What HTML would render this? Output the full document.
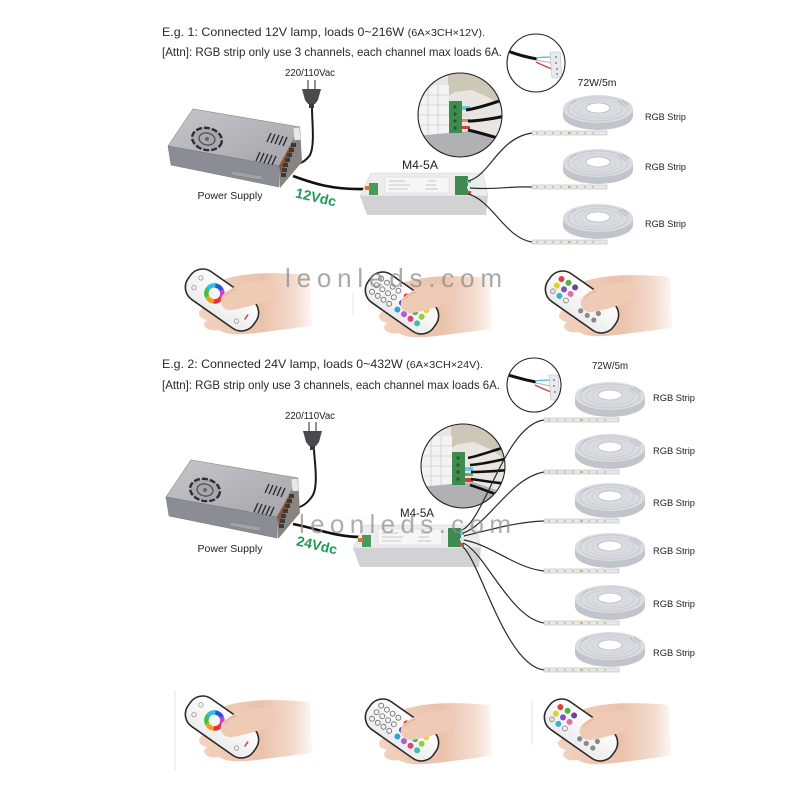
<!DOCTYPE html>
<html><head><meta charset="utf-8"><style>
html,body{margin:0;padding:0;background:#fff;}
svg{display:block;}
text{font-family:"Liberation Sans",Arial,sans-serif;}
</style></head><body>
<svg width="800" height="800" viewBox="0 0 800 800" xmlns="http://www.w3.org/2000/svg">
<defs>
 <linearGradient id="skin" x1="0" y1="0" x2="1" y2="0">
  <stop offset="0" stop-color="#f2d2bf"/>
  <stop offset="0.55" stop-color="#ebc2ab"/>
  <stop offset="0.85" stop-color="#f3dccf"/>
  <stop offset="1" stop-color="#fdf7f3"/>
 </linearGradient>
 <linearGradient id="psuTop" x1="0" y1="0" x2="1" y2="1">
  <stop offset="0" stop-color="#c6c6ca"/><stop offset="1" stop-color="#a4a4aa"/>
 </linearGradient>
 <linearGradient id="remFace" x1="0" y1="0" x2="0" y2="1">
  <stop offset="0" stop-color="#ffffff"/><stop offset="1" stop-color="#ececec"/>
 </linearGradient>
 <clipPath id="cA"><circle cx="460" cy="115" r="42"/></clipPath>
 <clipPath id="cB"><circle cx="463" cy="466" r="42"/></clipPath>
 <clipPath id="cS1"><circle cx="536" cy="63" r="29"/></clipPath>
 <clipPath id="cS2"><circle cx="534" cy="385" r="27"/></clipPath>

 <g id="reel">
  <rect x="-66" y="22" width="75" height="4" fill="#e6e8eb" stroke="#b5b9bf" stroke-width="0.6"/>
  <rect x="-62" y="23" width="2" height="2" fill="#d6c88e"/>
  <rect x="-54" y="23" width="2" height="2" fill="#d6c88e"/>
  <rect x="-46" y="23" width="2" height="2" fill="#d6c88e"/>
  <rect x="-38" y="23" width="2" height="2" fill="#d6c88e"/>
  <rect x="-30" y="23" width="3" height="2" fill="#c9b870"/>
  <rect x="-22" y="23" width="2" height="2" fill="#d6c88e"/>
  <rect x="-14" y="23" width="2" height="2" fill="#d6c88e"/>
  <rect x="-6" y="23" width="2" height="2" fill="#d6c88e"/>
  <path d="M-35,0 L-35,7 A35,14 0 0 0 35,7 L35,0 Z" fill="#c1c4ca"/>
  <ellipse rx="35" ry="14" fill="#dadce1"/>
  <ellipse rx="30" ry="12" fill="none" stroke="#c6c9ce" stroke-width="1"/>
  <ellipse rx="24" ry="9.5" fill="none" stroke="#cbced3" stroke-width="1"/>
  <ellipse rx="18" ry="7.5" fill="none" stroke="#d0d3d7" stroke-width="0.8"/>
  <path d="M20,-8 L28,-2 M24,-9 L31,-4 M-28,-5 L-22,-9" stroke="#b5b8be" stroke-width="0.8"/>
  <ellipse cy="-1" rx="12" ry="5" fill="#ffffff" stroke="#b6b9be" stroke-width="0.8"/>
 </g>

 <g id="psu">
  <polygon points="168,146 193,109 300,127 279,166" fill="url(#psuTop)" stroke="#85858c" stroke-width="0.6"/>
  <polygon points="168,146 279,166 279,187 171,165" fill="#8c8c94" stroke="#75757c" stroke-width="0.5"/>
  <polygon points="279,166 300,127 302,162 280,188" fill="#8a8480"/>
  <polygon points="279,166 292,143 294,150 281,174" fill="#8b5636"/>
  <rect x="294" y="128" width="6" height="12" fill="#e8e8e8" transform="rotate(-5 297 134)"/>
  <g fill="#3a3a3a">
   <rect x="285" y="158" width="5" height="4"/>
   <rect x="287" y="153" width="5" height="4"/>
   <rect x="289" y="148" width="5" height="4"/>
   <rect x="291" y="143" width="5" height="4"/>
   <rect x="283" y="163" width="5" height="4"/>
   <rect x="282" y="168" width="5" height="4"/>
   <rect x="281" y="173" width="5" height="4"/>
  </g>
  <ellipse cx="207" cy="139" rx="15" ry="11" fill="#a8a8ad" stroke="#2f2f33" stroke-width="2.4" stroke-dasharray="6 2" transform="rotate(12 207 139)"/>
  <ellipse cx="207" cy="139" rx="8" ry="6" fill="none" stroke="#55555a" stroke-width="1.4" transform="rotate(12 207 139)"/>
  <circle cx="207" cy="139" r="2" fill="#66666b"/>
  <g stroke="#2c2c30" stroke-width="1.4">
   <line x1="267" y1="142" x2="271" y2="133"/>
   <line x1="271" y1="143" x2="275" y2="134"/>
   <line x1="275" y1="144" x2="279" y2="135"/>
   <line x1="279" y1="145" x2="283" y2="136"/>
   <line x1="283" y1="146" x2="287" y2="137"/>
   <line x1="256" y1="161" x2="260" y2="152"/>
   <line x1="260" y1="162" x2="264" y2="153"/>
   <line x1="264" y1="163" x2="268" y2="154"/>
   <line x1="268" y1="164" x2="272" y2="155"/>
   <line x1="272" y1="165" x2="276" y2="156"/>
  </g>
  <polygon points="232,171 262,176 262,180 232,175" fill="#a2a2a8" stroke="#777" stroke-width="0.4"/>
 </g>

 <g id="ctrl">
  <polygon points="360,196 371,173 483,173 488,196" fill="#ececec" stroke="#d0d0d0" stroke-width="0.5"/>
  <polygon points="360,196 488,196 486,215 367,215" fill="#d2d2d4"/>
  <rect x="385" y="177" width="64" height="16" fill="#f6f6f6" stroke="#d6d6d6" stroke-width="0.5"/>
  <g stroke="#b8b8b8" stroke-width="0.8">
   <line x1="389" y1="181" x2="405" y2="181"/>
   <line x1="389" y1="185" x2="410" y2="185"/>
   <line x1="389" y1="189" x2="408" y2="189"/>
   <line x1="428" y1="181" x2="436" y2="181"/>
   <line x1="426" y1="185" x2="436" y2="185"/>
   <line x1="425" y1="189" x2="438" y2="189"/>
  </g>
  <rect x="369" y="183" width="9" height="12" fill="#4b985b"/>
  <rect x="365" y="186" width="5" height="4" fill="#d8743c"/>
  <rect x="455" y="176" width="13" height="19" fill="#3f8a50"/>
  <rect x="467" y="180" width="4" height="3" fill="#5cc0d8"/>
  <rect x="467" y="186" width="4" height="3" fill="#e0e0e0"/>
  <rect x="467" y="191" width="4" height="3" fill="#d04a3a"/>
 </g>

 <g id="plug">
  <line x1="308" y1="80" x2="308" y2="89" stroke="#777" stroke-width="1.6"/>
  <line x1="315" y1="80" x2="315" y2="89" stroke="#777" stroke-width="1.6"/>
  <path d="M302,89 L321,89 L318,100 L315,104 L308,104 L305,100 Z" fill="#4a4a4e"/>
  <rect x="309" y="104" width="5" height="4" fill="#3a3a3e"/>
 </g>

 <g id="handA">
  <path d="M-8,-16 C10,-27 45,-29 88,-25 L90,26 C72,28 52,31 34,33 C18,35 4,35 -3,30 C-13,32 -23,26 -15,20 C-25,18 -26,10 -16,7 C-21,2 -17,-4 -8,-7 Z" fill="url(#skin)"/>
 </g>
 <g id="remBody">
  <rect x="-40" y="-17" width="80" height="34" rx="15" fill="url(#remFace)" stroke="#2a2a2a" stroke-width="1.6"/>
 </g>
 <g id="thumb">
  <path d="M0,-4 C10,-15 30,-21 50,-19 L54,-2 C40,2 24,8 10,10 C2,11 -4,4 0,-4 Z" fill="#efcab5"/>
  <path d="M2,-3 C6,-8 10,-10 14,-11" stroke="#ddb09a" stroke-width="1" fill="none"/>
 </g>

 <g id="remA">
  <use href="#handA"/>
  <g transform="rotate(35)">
   <use href="#remBody"/>
   <g fill="none" stroke-width="4.5">
    <circle cx="-10" cy="-1" r="8" stroke="#e8303a" stroke-dasharray="8.4 41.9" stroke-dashoffset="0"/>
    <circle cx="-10" cy="-1" r="8" stroke="#f0a020" stroke-dasharray="8.4 41.9" stroke-dashoffset="-8.4"/>
    <circle cx="-10" cy="-1" r="8" stroke="#40c040" stroke-dasharray="8.4 41.9" stroke-dashoffset="-16.8"/>
    <circle cx="-10" cy="-1" r="8" stroke="#30c0e0" stroke-dasharray="8.4 41.9" stroke-dashoffset="-25.1"/>
    <circle cx="-10" cy="-1" r="8" stroke="#3050e0" stroke-dasharray="8.4 41.9" stroke-dashoffset="-33.5"/>
    <circle cx="-10" cy="-1" r="8" stroke="#d040c0" stroke-dasharray="8.4 41.9" stroke-dashoffset="-41.9"/>
   </g>
   <g fill="none" stroke="#999" stroke-width="0.8">
    <circle cx="-30" cy="-6" r="2.2"/><circle cx="-30" cy="6" r="2.2"/>
    <circle cx="14" cy="-10" r="2.2"/><circle cx="24" cy="9" r="2.2"/>
   </g>
   <rect x="29" y="-3" width="1.5" height="6" fill="#d04040"/>
  </g>
  <use href="#thumb"/>
 </g>

 <g id="remB">
  <use href="#handA"/>
  <g transform="rotate(35)">
   <use href="#remBody"/>
   <g fill="none" stroke="#6a6a6a" stroke-width="0.8">
    <circle cx="-31" cy="-8" r="2.5"/><circle cx="-31" cy="0" r="2.5"/><circle cx="-31" cy="8" r="2.5"/>
    <circle cx="-24" cy="-8" r="2.5"/><circle cx="-24" cy="0" r="2.5"/><circle cx="-24" cy="8" r="2.5"/>
    <circle cx="-17" cy="-8" r="2.5"/><circle cx="-17" cy="0" r="2.5"/><circle cx="-17" cy="8" r="2.5"/>
    <circle cx="-10" cy="-8" r="2.5"/><circle cx="-10" cy="0" r="2.5"/><circle cx="-10" cy="8" r="2.5"/>
   </g>
   <circle cx="0" cy="-8" r="3" fill="#e03030"/><circle cx="0" cy="0" r="3" fill="#7040b0"/><circle cx="0" cy="8" r="3" fill="#30a0e0"/>
   <circle cx="8" cy="-8" r="3" fill="#e86a9a"/><circle cx="8" cy="0" r="3" fill="#40b8d0"/><circle cx="8" cy="8" r="3" fill="#b060d0"/>
   <circle cx="16" cy="-8" r="3" fill="#f08030"/><circle cx="16" cy="0" r="3" fill="#50b050"/><circle cx="16" cy="8" r="3" fill="#e04080"/>
   <circle cx="24" cy="-8" r="3" fill="#f0d030"/><circle cx="24" cy="0" r="3" fill="#90d040"/><circle cx="24" cy="8" r="3" fill="#40c0a0"/>
  </g>
  <use href="#thumb"/>
 </g>

 <g id="remC">
  <use href="#handA"/>
  <g transform="rotate(35)">
   <use href="#remBody"/>
   <circle cx="-30" cy="-7" r="3" fill="#e04040"/><circle cx="-30" cy="1" r="3" fill="#e0d030"/><circle cx="-30" cy="8" r="2.5" fill="#ddd" stroke="#777" stroke-width="0.6"/>
   <circle cx="-22" cy="-8" r="3" fill="#50b050"/><circle cx="-22" cy="0" r="3" fill="#8050c0"/><circle cx="-22" cy="8" r="3" fill="#40b0d0"/>
   <circle cx="-14" cy="-8" r="3" fill="#7040a0"/><circle cx="-14" cy="0" r="3" fill="#e070a0"/><circle cx="-14" cy="8" r="2.5" fill="none" stroke="#777" stroke-width="0.7"/>
   <g fill="#8a8a8a">
    <circle cx="4" cy="-8" r="2.6"/><circle cx="4" cy="0" r="2.6"/><circle cx="4" cy="8" r="2.6"/>
    <circle cx="12" cy="-8" r="2.6"/><circle cx="12" cy="0" r="2.6"/><circle cx="12" cy="8" r="2.6"/>
    <circle cx="20" cy="-8" r="2.6"/><circle cx="20" cy="0" r="2.6"/><circle cx="20" cy="8" r="2.6"/>
   </g>
  </g>
  <use href="#thumb"/>
 </g>
</defs>

<rect width="800" height="800" fill="#ffffff"/>

<!-- ============ SECTION 1 ============ -->
<text x="162" y="36" font-size="12" fill="#2a2a2a" textLength="323" lengthAdjust="spacingAndGlyphs">E.g. 1: Connected 12V lamp, loads 0~216W <tspan font-size="10.5">(6A×3CH×12V).</tspan></text>
<text x="162" y="56" font-size="12" fill="#2a2a2a" textLength="340" lengthAdjust="spacingAndGlyphs">[Attn]: RGB strip only use 3 channels, each channel max loads 6A.</text>

<g clip-path="url(#cS1)">
 <rect x="505" y="33" width="62" height="60" fill="#ffffff"/>
 <path d="M505,50 C515,54 525,57 537,59" stroke="#111" stroke-width="3" fill="none"/>
 <path d="M536,58 C542,57 547,57 552,57" stroke="#49b8d6" stroke-width="1.3" fill="none"/>
 <path d="M536,60 C542,61 547,62 552,63" stroke="#bbb" stroke-width="1.3" fill="none"/>
 <path d="M536,62 C542,65 547,67 552,69" stroke="#d04040" stroke-width="1.3" fill="none"/>
 <polygon points="550,52 560,52 562,78 552,78" fill="#e8e9ec" stroke="#bbb" stroke-width="0.6"/>
 <circle cx="556" cy="57" r="1" fill="#888"/><circle cx="556" cy="63" r="1" fill="#888"/><circle cx="557" cy="69" r="1" fill="#888"/><circle cx="557" cy="74" r="1" fill="#888"/>
</g>
<circle cx="536" cy="63" r="29" fill="none" stroke="#222" stroke-width="1.1"/>

<g clip-path="url(#cA)">
 <rect x="416" y="71" width="90" height="90" fill="#e8e6e1"/>
 <polygon points="448,73 505,73 505,108 490,98 472,90 455,92 448,96" fill="#cdc7b8"/>
 <rect x="418" y="85" width="31" height="50" fill="#f3f3f3"/>
 <g stroke="#cfcfcf" stroke-width="0.8">
  <line x1="418" y1="95" x2="449" y2="95"/><line x1="418" y1="105" x2="449" y2="105"/>
  <line x1="418" y1="115" x2="449" y2="115"/><line x1="418" y1="125" x2="449" y2="125"/>
  <line x1="428" y1="85" x2="428" y2="135"/><line x1="438" y1="85" x2="438" y2="135"/>
 </g>
 <polygon points="416,136 470,131 505,143 505,160 416,160" fill="#b1b1b4"/>
 <rect x="449" y="101" width="13" height="32" fill="#3f8c4e"/>
 <circle cx="455" cy="107" r="1.6" fill="#1f5a2c"/><circle cx="455" cy="114" r="1.6" fill="#1f5a2c"/>
 <circle cx="455" cy="121" r="1.6" fill="#1f5a2c"/><circle cx="455" cy="128" r="1.6" fill="#1f5a2c"/>
 <rect x="462" y="106" width="8" height="4" fill="#6cc6e0"/>
 <rect x="462" y="114" width="8" height="3" fill="#e0e0e0"/>
 <rect x="462" y="119" width="8" height="3" fill="#e08a4a"/>
 <rect x="462" y="126" width="8" height="3" fill="#d04040"/>
 <path d="M466,110 C480,108 492,103 506,99" stroke="#111" stroke-width="3" fill="none"/>
 <path d="M468,121 C482,121 494,118 506,116" stroke="#111" stroke-width="3" fill="none"/>
 <path d="M468,130 C482,133 492,137 506,140" stroke="#111" stroke-width="3" fill="none"/>
</g>
<circle cx="460" cy="115" r="42" fill="none" stroke="#222" stroke-width="1.1"/>

<text x="310" y="76" font-size="10" fill="#222" text-anchor="middle" textLength="50" lengthAdjust="spacingAndGlyphs">220/110Vac</text>
<use href="#plug"/>
<path d="M312,108 C312,122 315,145 310,155 C305,162 300,164 295,164" stroke="#1a1a1a" stroke-width="2" fill="none"/>
<use href="#psu"/>
<path d="M293,176 C310,182 330,190 366,189" stroke="#111" stroke-width="2.6" fill="none"/>
<text x="230" y="199" font-size="10.5" fill="#222" text-anchor="middle" textLength="65" lengthAdjust="spacingAndGlyphs">Power Supply</text>
<text x="316" y="202" font-size="14" font-weight="bold" fill="#1f9a52" text-anchor="middle" transform="rotate(13 316 197)">12Vdc</text>

<text x="420" y="169" font-size="12" fill="#222" text-anchor="middle" textLength="36" lengthAdjust="spacingAndGlyphs">M4-5A</text>
<use href="#ctrl"/>

<g stroke="#2a2a2a" stroke-width="1.2" fill="none">
 <path d="M468,181 C490,176 498,138 532,133"/>
 <path d="M470,188 C495,190 510,186 532,187"/>
 <path d="M468,194 C492,200 505,238 532,242"/>
</g>

<text x="597" y="86" font-size="10.5" fill="#222" text-anchor="middle" textLength="39" lengthAdjust="spacingAndGlyphs">72W/5m</text>
<use href="#reel" transform="translate(598,109)"/>
<use href="#reel" transform="translate(598,163)"/>
<use href="#reel" transform="translate(598,218)"/>
<text x="645" y="120" font-size="9" fill="#222" textLength="41" lengthAdjust="spacingAndGlyphs">RGB Strip</text>
<text x="645" y="170" font-size="9" fill="#222" textLength="41" lengthAdjust="spacingAndGlyphs">RGB Strip</text>
<text x="645" y="227" font-size="9" fill="#222" textLength="41" lengthAdjust="spacingAndGlyphs">RGB Strip</text>

<use href="#remA" transform="translate(222,300)"/>
<use href="#remB" transform="translate(402,303)"/>
<use href="#remC" transform="translate(582,302)"/>

<text x="285" y="287" font-size="26" fill="#8c8c8c" fill-opacity="0.75" textLength="217" lengthAdjust="spacing">leonleds.com</text>

<!-- ============ SECTION 2 ============ -->
<text x="162" y="368" font-size="12" fill="#2a2a2a" textLength="321" lengthAdjust="spacingAndGlyphs">E.g. 2: Connected 24V lamp, loads 0~432W <tspan font-size="10.5">(6A×3CH×24V).</tspan></text>
<text x="162" y="389" font-size="12" fill="#2a2a2a" textLength="338" lengthAdjust="spacingAndGlyphs">[Attn]: RGB strip only use 3 channels, each channel max loads 6A.</text>

<g clip-path="url(#cS2)">
 <rect x="505" y="356" width="60" height="58" fill="#ffffff"/>
 <path d="M505,374 C515,377 525,380 536,382" stroke="#111" stroke-width="3" fill="none"/>
 <path d="M535,381 C541,380 546,380 551,380" stroke="#49b8d6" stroke-width="1.3" fill="none"/>
 <path d="M535,383 C541,384 546,385 551,386" stroke="#bbb" stroke-width="1.3" fill="none"/>
 <path d="M535,385 C541,388 546,390 551,392" stroke="#d04040" stroke-width="1.3" fill="none"/>
 <polygon points="549,375 558,375 560,400 551,400" fill="#e8e9ec" stroke="#bbb" stroke-width="0.6"/>
 <circle cx="554" cy="380" r="1" fill="#888"/><circle cx="554" cy="386" r="1" fill="#888"/><circle cx="555" cy="392" r="1" fill="#888"/>
</g>
<circle cx="534" cy="385" r="27" fill="none" stroke="#222" stroke-width="1.1"/>

<g clip-path="url(#cB)">
 <rect x="419" y="422" width="90" height="90" fill="#e8e6e1"/>
 <polygon points="451,424 508,424 508,462 492,450 474,442 458,444 451,448" fill="#cdc7b8"/>
 <rect x="421" y="436" width="31" height="50" fill="#f3f3f3"/>
 <g stroke="#cfcfcf" stroke-width="0.8">
  <line x1="421" y1="446" x2="452" y2="446"/><line x1="421" y1="456" x2="452" y2="456"/>
  <line x1="421" y1="466" x2="452" y2="466"/><line x1="421" y1="476" x2="452" y2="476"/>
  <line x1="431" y1="436" x2="431" y2="486"/><line x1="441" y1="436" x2="441" y2="486"/>
 </g>
 <polygon points="419,487 473,482 508,494 508,512 419,512" fill="#b1b1b4"/>
 <rect x="452" y="452" width="13" height="33" fill="#3f8c4e"/>
 <circle cx="458" cy="458" r="1.6" fill="#1f5a2c"/><circle cx="458" cy="465" r="1.6" fill="#1f5a2c"/>
 <circle cx="458" cy="472" r="1.6" fill="#1f5a2c"/><circle cx="458" cy="479" r="1.6" fill="#1f5a2c"/>
 <rect x="465" y="467" width="8" height="4" fill="#6cc6e0"/>
 <rect x="465" y="473" width="8" height="3" fill="#50b860"/>
 <rect x="465" y="478" width="8" height="4" fill="#d83a3a"/>
 <g stroke="#111" stroke-width="2.6" fill="none">
  <path d="M468,458 C482,455 494,450 509,446"/>
  <path d="M470,465 C484,464 496,461 509,458"/>
  <path d="M471,472 C485,472 497,471 509,470"/>
  <path d="M471,479 C485,481 497,483 509,484"/>
  <path d="M470,485 C483,489 494,494 507,498"/>
 </g>
</g>
<circle cx="463" cy="466" r="42" fill="none" stroke="#222" stroke-width="1.1"/>

<text x="310" y="419" font-size="10" fill="#222" text-anchor="middle" textLength="50" lengthAdjust="spacingAndGlyphs">220/110Vac</text>
<use href="#plug" transform="translate(1,342)"/>
<path d="M314,450 C315,465 318,485 313,495 C308,503 303,506 297,508" stroke="#1a1a1a" stroke-width="2" fill="none"/>
<use href="#psu" transform="translate(-2,351)"/>
<path d="M293,524 C315,528 335,537 362,537" stroke="#111" stroke-width="2.6" fill="none"/>
<text x="230" y="552" font-size="10.5" fill="#222" text-anchor="middle" textLength="65" lengthAdjust="spacingAndGlyphs">Power Supply</text>
<text x="317" y="550" font-size="14" font-weight="bold" fill="#1f9a52" text-anchor="middle" transform="rotate(13 317 545)">24Vdc</text>

<text x="417" y="517" font-size="12" fill="#222" text-anchor="middle" textLength="34" lengthAdjust="spacingAndGlyphs">M4-5A</text>
<use href="#ctrl" transform="translate(-7,352)"/>

<g stroke="#2a2a2a" stroke-width="1.2" fill="none">
 <path d="M462,530 C485,520 505,425 544,420"/>
 <path d="M463,533 C488,525 510,478 544,472"/>
 <path d="M464,536 C490,530 515,522 544,521"/>
 <path d="M464,540 C492,545 515,568 544,571"/>
 <path d="M463,543 C485,552 510,618 544,623"/>
 <path d="M462,546 C480,560 505,665 544,670"/>
</g>

<text x="610" y="369" font-size="10.5" fill="#222" text-anchor="middle" textLength="36" lengthAdjust="spacingAndGlyphs">72W/5m</text>
<use href="#reel" transform="translate(610,396)"/>
<use href="#reel" transform="translate(610,448)"/>
<use href="#reel" transform="translate(610,497)"/>
<use href="#reel" transform="translate(610,547)"/>
<use href="#reel" transform="translate(610,599)"/>
<use href="#reel" transform="translate(610,646)"/>
<text x="653" y="401" font-size="9" fill="#222" textLength="42" lengthAdjust="spacingAndGlyphs">RGB Strip</text>
<text x="653" y="454" font-size="9" fill="#222" textLength="42" lengthAdjust="spacingAndGlyphs">RGB Strip</text>
<text x="653" y="506" font-size="9" fill="#222" textLength="42" lengthAdjust="spacingAndGlyphs">RGB Strip</text>
<text x="653" y="554" font-size="9" fill="#222" textLength="42" lengthAdjust="spacingAndGlyphs">RGB Strip</text>
<text x="653" y="607" font-size="9" fill="#222" textLength="42" lengthAdjust="spacingAndGlyphs">RGB Strip</text>
<text x="653" y="656" font-size="9" fill="#222" textLength="42" lengthAdjust="spacingAndGlyphs">RGB Strip</text>

<text x="299" y="533" font-size="26" fill="#8c8c8c" fill-opacity="0.7" textLength="212" lengthAdjust="spacing">leonleds.com</text>

<use href="#remA" transform="translate(222,727)"/>
<use href="#remB" transform="translate(402,730)"/>
<use href="#remC" transform="translate(581,730)"/>

<line x1="175" y1="690" x2="175" y2="770" stroke="#e4e4e4" stroke-width="1"/>
<line x1="532" y1="700" x2="532" y2="745" stroke="#e4e4e4" stroke-width="1"/>
<line x1="353" y1="293" x2="353" y2="315" stroke="#e4e4e4" stroke-width="1"/>
</svg>
</body></html>
